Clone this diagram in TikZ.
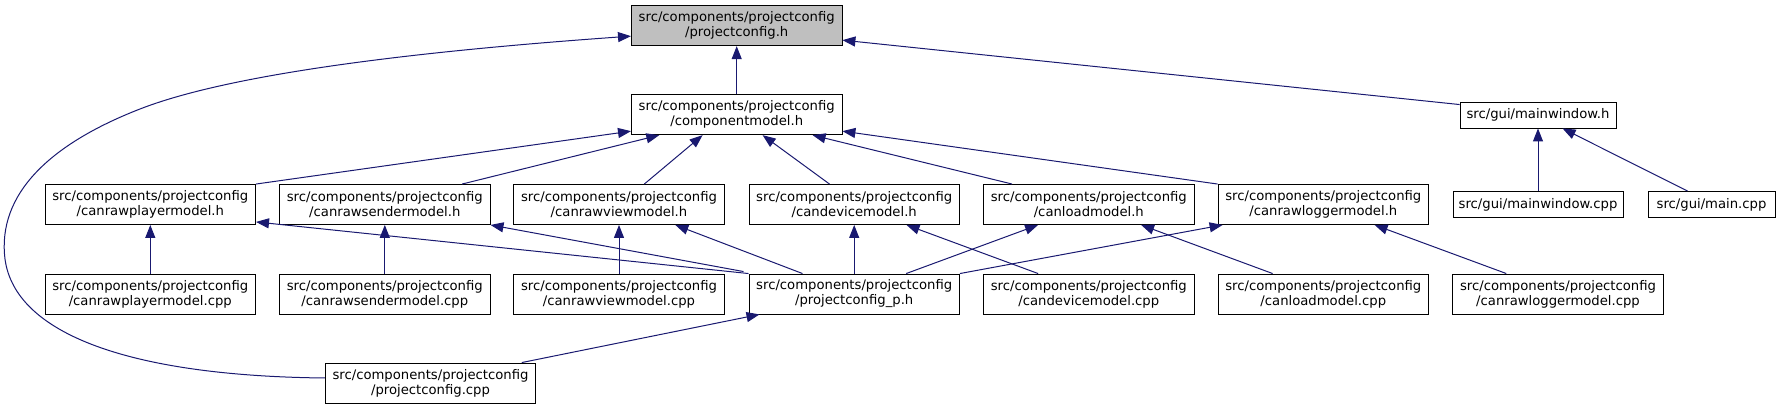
\documentclass[tikz,border=0pt]{standalone}
\usepackage{fontspec}
\setmainfont{DejaVu Sans}
\usetikzlibrary{arrows.meta,calc}
\definecolor{edgeblue}{HTML}{191970}
\definecolor{rootgray}{HTML}{BFBFBF}
\begin{document}
\begin{tikzpicture}[x=1pt,y=1pt,
  file/.style={draw=black, line width=0.9pt, fill=white, inner sep=0pt, align=center,
    font=\fontsize{13.2}{15}\selectfont, minimum width=210.5pt, minimum height=40pt},
  single/.style={file, minimum height=26pt},
  root/.style={file, fill=rootgray},
  edge/.style={draw=edgeblue, line width=1pt, -{Triangle[length=13pt,width=10pt]}}
]
\useasboundingbox (0,0) rectangle (1780,409);
% nodes
\node[root] (pch) at (736.7,383.3) {src/components/projectconfig\\/projectconfig.h};
\node[file] (cm) at (736.7,294.3) {src/components/projectconfig\\/componentmodel.h};
\node[single, minimum width=156pt] (mw) at (1538,294) {src/gui/mainwindow.h};
\node[file] (crph) at (150.3,204.5) {src/components/projectconfig\\/canrawplayermodel.h};
\node[file] (crsh) at (384.8,204.5) {src/components/projectconfig\\/canrawsendermodel.h};
\node[file] (crvh) at (619,204.5) {src/components/projectconfig\\/canrawviewmodel.h};
\node[file] (cdh) at (854.2,204.5) {src/components/projectconfig\\/candevicemodel.h};
\node[file] (clh) at (1088.8,204.5) {src/components/projectconfig\\/canloadmodel.h};
\node[file] (crlh) at (1323.3,204.5) {src/components/projectconfig\\/canrawloggermodel.h};
\node[single, minimum width=170pt] (mwcpp) at (1538,204.5) {src/gui/mainwindow.cpp};
\node[single, minimum width=127pt] (maincpp) at (1711.5,204.5) {src/gui/main.cpp};
\node[file] (crpc) at (150.3,115) {src/components/projectconfig\\/canrawplayermodel.cpp};
\node[file] (crsc) at (384.8,115) {src/components/projectconfig\\/canrawsendermodel.cpp};
\node[file] (crvc) at (619,115) {src/components/projectconfig\\/canrawviewmodel.cpp};
\node[file] (pcph) at (854.2,115) {src/components/projectconfig\\/projectconfig\_p.h};
\node[file] (cdc) at (1088.8,115) {src/components/projectconfig\\/candevicemodel.cpp};
\node[file] (clc) at (1323.3,115) {src/components/projectconfig\\/canloadmodel.cpp};
\node[file] (crlc) at (1558,115) {src/components/projectconfig\\/canrawloggermodel.cpp};
\node[file] (pccpp) at (430.5,26) {src/components/projectconfig\\/projectconfig.cpp};
% edges to projectconfig.h
\draw[edge] (cm.north) -- (pch.south);
\draw[edge] ($(mw.north west)+(0,-3)$) -- ($(pch.south east)+(0,6)$);
\draw[edge] ($(pccpp.west)+(0,5)$) .. controls (130,33) and (15,75) .. (5,150)
  .. controls (-3,215) and (50,265) .. (140,300)
  .. controls (240,339) and (450,360) .. ($(pch.south west)+(0,10)$);
% edges to componentmodel.h
\draw[edge] (crph.north east) -- ($(cm.south west)+(0,4)$);
\draw[edge] ($(crsh.north west)+(183,0)$) -- ($(cm.south west)+(28.3,0)$);
\draw[edge] ($(crvh.north west)+(131,0)$) -- ($(cm.south west)+(71.6,0)$);
\draw[edge] ($(cdh.north west)+(81,0)$) -- ($(cm.south west)+(131.6,0)$);
\draw[edge] ($(clh.north west)+(29,0)$) -- ($(cm.south west)+(181.6,0)$);
\draw[edge] (crlh.north west) -- ($(cm.south east)+(0,4)$);
% edges to mainwindow.h
\draw[edge] (mwcpp.north) -- (mw.south);
\draw[edge] ($(maincpp.north west)+(40,0)$) -- ($(mw.south west)+(103,0)$);
% vertical cpp -> h
\draw[edge] (crpc.north) -- (crph.south);
\draw[edge] (crsc.north) -- (crsh.south);
\draw[edge] (crvc.north) -- (crvh.south);
\draw[edge] (pcph.north) -- (cdh.south);
% projectconfig_p.h -> headers
\draw[edge] (pcph.north west) -- ($(crph.south east)+(0,3)$);
\draw[edge] ($(pcph.north west)+(-5,2)$) -- (crsh.south east);
\draw[edge] ($(pcph.north west)+(54,0)$) -- ($(crvh.south west)+(162,0)$);
\draw[edge] ($(pcph.north west)+(157.7,0)$) -- ($(clh.south west)+(55,0)$);
\draw[edge] (pcph.north east) -- ($(crlh.south west)+(5,0)$);
% projectconfig.cpp -> projectconfig_p.h
\draw[edge] ($(pccpp.north west)+(197,0)$) -- ($(pcph.south west)+(11,0)$);
% cross edges cpp -> h
\draw[edge] ($(cdc.north west)+(55,0)$) -- ($(cdh.south west)+(158,0)$);
\draw[edge] ($(clc.north west)+(55,0)$) -- ($(clh.south west)+(158,0)$);
\draw[edge] ($(crlc.north west)+(54,0)$) -- ($(crlh.south west)+(157,0)$);
\end{tikzpicture}
\end{document}
